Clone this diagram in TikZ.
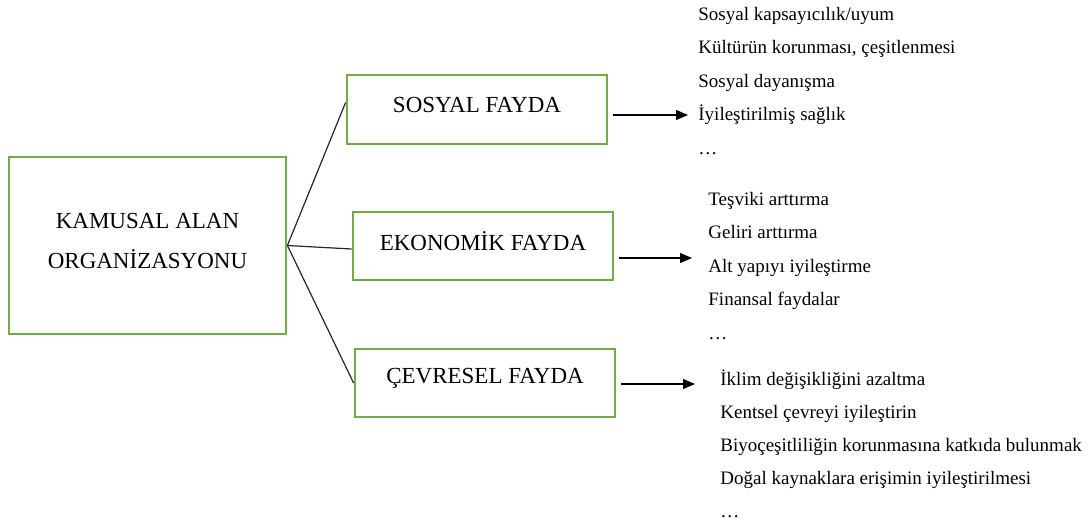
\documentclass[tikz,border=0pt]{standalone}
\usepackage{fontspec}
\setmainfont{Liberation Serif}
\usetikzlibrary{arrows.meta}

\definecolor{boxgreen}{RGB}{112,173,71}
% lift a box label a little above the middle of its frame
\newcommand{\lift}[1]{\raisebox{2.5pt}[\height][\depth]{#1}}

\begin{document}
\begin{tikzpicture}[
    x=0.5pt, y=-0.5pt,
    box/.style={rectangle, draw=boxgreen, line width=1.4pt, inner sep=0pt, align=center, font=\fontsize{11.5}{20}\selectfont},
    item/.style={anchor=base west, inner sep=0pt, font=\fontsize{9.5}{11}\selectfont},
    link/.style={line width=0.6pt, black!85},
    arrow/.style={-{Triangle[length=6pt, width=5pt]}, line width=0.6pt, shorten <=2.5pt}
]
\useasboundingbox (0,0) rectangle (1091,520);

% Main box
\node[box, minimum width=138.5pt, minimum height=88.5pt] (kamusal) at (147.5, 245.5)
    {\lift{\begin{tabular}{@{}c@{}}KAMUSAL ALAN\\ORGANİZASYONU\end{tabular}}};

% Benefit boxes
\node[box, minimum width=130pt, minimum height=34.5pt] (sosyal) at (477, 109.5) {\lift{SOSYAL FAYDA}};
\node[box, minimum width=130pt, minimum height=34pt] (ekonomik) at (483, 246) {\lift{EKONOMİK FAYDA}};
\node[box, minimum width=130pt, minimum height=34pt] (cevresel) at (485, 383) {\lift{ÇEVRESEL FAYDA}};

% Lists
\foreach \t [count=\i] in {Sosyal kapsayıcılık/uyum, {Kültürün korunması, çeşitlenmesi}, Sosyal dayanışma, İyileştirilmiş sağlık, \dots}
    \node[item] (sos\i) at (698, 20+33.5*\i-33.5) {\t};
\foreach \t [count=\i] in {Teşviki arttırma, Geliri arttırma, Alt yapıyı iyileştirme, Finansal faydalar, \dots}
    \node[item] (eko\i) at (708, 205+33.5*\i-33.5) {\t};
\foreach \t [count=\i] in {İklim değişikliğini azaltma, Kentsel çevreyi iyileştirin, Biyoçeşitliliğin korunmasına katkıda bulunmak, Doğal kaynaklara erişimin iyileştirilmesi, \dots}
    \node[item] (cev\i) at (720, 385+33*\i-33) {\t};

% Arrow tips
\coordinate (sosyaltip) at (688, 115);
\coordinate (ekonomiktip) at (692, 258);
\coordinate (cevreseltip) at (695, 384);

% Connections
\draw[link] (kamusal.east) -- ([yshift=3.5pt]sosyal.west);
\draw[link] (kamusal.east) -- ([yshift=-1.5pt]ekonomik.west);
\draw[link] (kamusal.east) -- (cevresel.west);
\draw[arrow] (sosyal.east |- sosyaltip) -- (sosyaltip);
\draw[arrow] (ekonomik.east |- ekonomiktip) -- (ekonomiktip);
\draw[arrow] (cevresel.east |- cevreseltip) -- (cevreseltip);

\end{tikzpicture}
\end{document}
